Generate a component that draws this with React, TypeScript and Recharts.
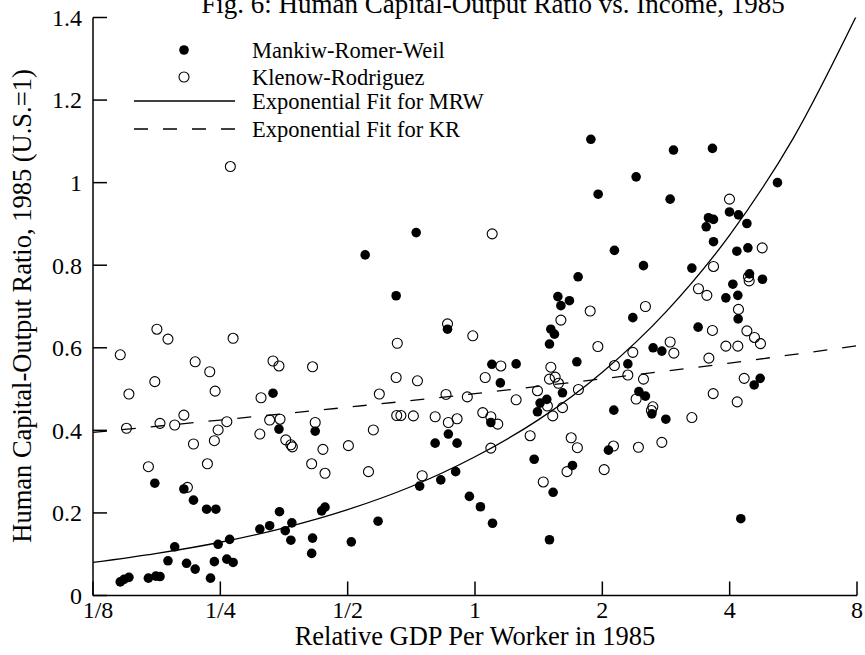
import React from "react";
import { ComposedChart, Scatter, Line, XAxis, YAxis } from "recharts";

document.body.style.margin = "0";

const serif = '"Liberation Serif", "Times New Roman", serif';

// axis ticks
const xTicks = [0.125, 0.25, 0.5, 1, 2, 4, 8];
const xTickLabels = ["1/8", "1/4", "1/2", "1", "2", "4", "8"];
const yTicks = [0, 0.2, 0.4, 0.6, 0.8, 1, 1.2, 1.4];

// Mankiw-Romer-Weil: [relative GDP per worker, human capital-output ratio]
const mrwPoints: [number, number][] = [
  [0.175, 0.272], [0.205, 0.258], [0.216, 0.231], [0.232, 0.209], [0.244, 0.209],
  [0.333, 0.49], [0.344, 0.403], [0.419, 0.398], [0.145, 0.033], [0.148, 0.039],
  [0.152, 0.044], [0.169, 0.042], [0.176, 0.047], [0.18, 0.046], [0.188, 0.084],
  [0.195, 0.118], [0.208, 0.078], [0.218, 0.064], [0.237, 0.042], [0.242, 0.082],
  [0.247, 0.124], [0.259, 0.088], [0.268, 0.08], [0.263, 0.136], [0.31, 0.161],
  [0.327, 0.169], [0.345, 0.203], [0.356, 0.157], [0.369, 0.176], [0.367, 0.134],
  [0.413, 0.139], [0.411, 0.102], [0.434, 0.205], [0.442, 0.214],
  [0.726, 0.879], [0.55, 0.825], [0.651, 0.726], [0.861, 0.645], [1.753, 0.772],
  [1.57, 0.724], [1.596, 0.702], [1.672, 0.714], [1.511, 0.645], [1.541, 0.633],
  [1.5, 0.609], [1.096, 0.56], [1.251, 0.561], [1.148, 0.515], [1.741, 0.566],
  [1.61, 0.491], [1.425, 0.466], [1.478, 0.475], [1.405, 0.445], [1.09, 0.419],
  [0.865, 0.391], [0.805, 0.369], [0.907, 0.369],
  [1.879, 1.105], [2.946, 1.079], [3.642, 1.083], [2.404, 1.014], [1.955, 0.972],
  [2.893, 0.96], [5.189, 1.0], [3.996, 0.929], [4.196, 0.922], [3.564, 0.915],
  [3.663, 0.911], [3.52, 0.893], [4.393, 0.901], [3.663, 0.857], [4.16, 0.834],
  [4.417, 0.842], [2.136, 0.836], [2.502, 0.799], [3.256, 0.793], [4.456, 0.779],
  [4.782, 0.766], [4.07, 0.754], [4.182, 0.727], [3.918, 0.721], [4.189, 0.67],
  [2.361, 0.673], [3.369, 0.65], [2.637, 0.6], [2.765, 0.592], [2.298, 0.561],
  [2.44, 0.494], [2.529, 0.483], [4.723, 0.526], [4.571, 0.51], [2.129, 0.449],
  [2.619, 0.44], [2.826, 0.427], [2.068, 0.352],
  [0.51, 0.13], [0.59, 0.18], [0.74, 0.265], [0.83, 0.28], [0.9, 0.3],
  [0.97, 0.24], [1.03, 0.215], [1.1, 0.175], [1.38, 0.33], [1.5, 0.135],
  [1.53, 0.25], [1.7, 0.315], [4.25, 0.186],
];

// Klenow-Rodriguez
const krPoints: [number, number][] = [
  [0.145, 0.583], [0.177, 0.645], [0.188, 0.621], [0.152, 0.488], [0.15, 0.405],
  [0.175, 0.518], [0.18, 0.417], [0.195, 0.413], [0.205, 0.437], [0.218, 0.566],
  [0.236, 0.542], [0.243, 0.495], [0.247, 0.401], [0.242, 0.375], [0.216, 0.367],
  [0.169, 0.312], [0.233, 0.319], [0.259, 0.421], [0.268, 0.623], [0.209, 0.262],
  [0.312, 0.479], [0.333, 0.568], [0.344, 0.556], [0.31, 0.391], [0.327, 0.425],
  [0.346, 0.427], [0.357, 0.377], [0.367, 0.365], [0.37, 0.36], [0.413, 0.554],
  [0.419, 0.419], [0.437, 0.354], [0.411, 0.319], [0.442, 0.296], [0.264, 1.039],
  [1.098, 0.876], [0.861, 0.658], [0.988, 0.629], [0.655, 0.611], [1.596, 0.667],
  [1.872, 0.689], [0.651, 0.528], [0.731, 0.52], [0.594, 0.488], [0.854, 0.487],
  [0.959, 0.481], [1.057, 0.528], [1.151, 0.556], [1.511, 0.553], [1.5, 0.524],
  [1.547, 0.529], [1.575, 0.514], [1.405, 0.496], [1.756, 0.499], [1.251, 0.474],
  [1.483, 0.459], [1.61, 0.455], [1.527, 0.435], [0.653, 0.436], [0.668, 0.436],
  [0.715, 0.435], [0.805, 0.433], [0.865, 0.419], [0.907, 0.428], [1.043, 0.443],
  [1.09, 0.433], [1.132, 0.415], [0.575, 0.401], [0.502, 0.363], [1.09, 0.357],
  [1.35, 0.387], [1.688, 0.382], [1.746, 0.358],
  [3.996, 0.96], [4.775, 0.842], [3.663, 0.797], [4.431, 0.772], [4.448, 0.762],
  [3.375, 0.743], [3.533, 0.727], [4.196, 0.693], [2.529, 0.7], [3.642, 0.642],
  [4.393, 0.641], [4.578, 0.625], [4.73, 0.61], [3.918, 0.604], [4.182, 0.604],
  [1.952, 0.603], [2.893, 0.614], [2.952, 0.587], [2.361, 0.589], [3.572, 0.575],
  [2.136, 0.557], [2.298, 0.534], [2.502, 0.524], [4.329, 0.526], [2.404, 0.476],
  [3.657, 0.489], [4.167, 0.469], [2.633, 0.457], [2.613, 0.448], [3.256, 0.431],
  [2.125, 0.362], [2.434, 0.359], [2.765, 0.371],
  [0.56, 0.3], [0.75, 0.29], [1.45, 0.275], [1.65, 0.3], [2.02, 0.305],
];

// fitted curves
const mrwFit: [number, number][] = [
  [0.125, 0.08], [0.177, 0.102], [0.25, 0.129], [0.354, 0.164], [0.5, 0.208],
  [0.707, 0.264], [1, 0.336], [1.414, 0.426], [2, 0.541], [2.828, 0.687],
  [4, 0.873], [5.657, 1.108], [8, 1.407],
];
const krFit: [number, number][] = [
  [0.125, 0.395], [0.25, 0.425], [0.5, 0.456], [1, 0.489], [2, 0.525], [4, 0.563], [8, 0.605],
];

const toRows = (pts: [number, number][]) => pts.map(([x, y]) => ({ x, y }));

const FilledDot = (props: any) => <circle cx={props.cx} cy={props.cy} r={4.8} fill="#000" />;
const OpenDot = (props: any) => (
  <circle cx={props.cx} cy={props.cy} r={5} fill="none" stroke="#000" strokeWidth={1.1} />
);

const XTick = (props: any) => {
  const { x, y, payload } = props;
  const i = xTicks.indexOf(payload.value);
  return (
    <g>
      <line x1={x} y1={y} x2={x} y2={y - 14} stroke="#000" strokeWidth={1.5} />
      <text x={x + (i === 0 ? 5 : 0)} y={y + 22} textAnchor="middle" fontSize={24} fontFamily={serif} fill="#000">
        {xTickLabels[i]}
      </text>
    </g>
  );
};

const YTick = (props: any) => {
  const { x, y, payload } = props;
  return (
    <g>
      <line x1={x} y1={y} x2={x + 14} y2={y} stroke="#000" strokeWidth={1.5} />
      <text x={x - 11} y={y} dy="0.35em" textAnchor="end" fontSize={24} fontFamily={serif} fill="#000">
        {payload.value}
      </text>
    </g>
  );
};

export default function App() {
  return (
    <div style={{ position: "relative", width: 865, height: 655, background: "#fff" }}>
      <ComposedChart width={865} height={655} margin={{ top: 17.5, right: 8, bottom: 29.5, left: 33 }}>
        <XAxis
          type="number"
          dataKey="x"
          scale="log"
          domain={[0.125, 8]}
          ticks={xTicks}
          interval={0}
          allowDataOverflow
          height={30}
          tickSize={0}
          tickMargin={0}
          tickLine={false}
          tick={<XTick />}
          axisLine={{ stroke: "#000", strokeWidth: 1.5 }}
        />
        <YAxis
          type="number"
          dataKey="y"
          domain={[0, 1.4]}
          ticks={yTicks}
          interval={0}
          allowDataOverflow
          width={60}
          tickSize={0}
          tickMargin={0}
          tickLine={false}
          tick={<YTick />}
          axisLine={{ stroke: "#000", strokeWidth: 1.5 }}
        />
        <Scatter data={toRows(krPoints)} shape={<OpenDot />} isAnimationActive={false} />
        <Scatter data={toRows(mrwPoints)} shape={<FilledDot />} isAnimationActive={false} />
        <Line
          data={toRows(mrwFit)}
          dataKey="y"
          type="monotone"
          stroke="#000"
          strokeWidth={1.3}
          dot={false}
          activeDot={false}
          isAnimationActive={false}
        />
        <Line
          data={toRows(krFit)}
          dataKey="y"
          type="monotone"
          stroke="#000"
          strokeWidth={1.3}
          strokeDasharray="14 15"
          dot={false}
          activeDot={false}
          isAnimationActive={false}
        />
      </ComposedChart>

      {/* title, axis titles and legend */}
      <svg width={865} height={655} style={{ position: "absolute", left: 0, top: 0, pointerEvents: "none" }}>
        <g fontFamily={serif} fill="#000">
          <text x={493} y={13} textAnchor="middle" fontSize={27}>
            Fig. 6: Human Capital-Output Ratio vs. Income, 1985
          </text>
          <text x={475} y={645} textAnchor="middle" fontSize={26.5}>
            Relative GDP Per Worker in 1985
          </text>
          <text transform="translate(31, 306) rotate(-90)" textAnchor="middle" fontSize={26.5}>
            Human Capital-Output Ratio, 1985 (U.S.=1)
          </text>

          <circle cx={184} cy={50} r={4.8} fill="#000" />
          <circle cx={184} cy={77} r={5} fill="none" stroke="#000" strokeWidth={1.1} />
          <line x1={134} y1={101} x2={235} y2={101} stroke="#000" strokeWidth={1.3} />
          <line x1={134} y1={129} x2={235} y2={129} stroke="#000" strokeWidth={1.3} strokeDasharray="14 15" />
          <text x={252} y={50} dy="0.35em" fontSize={22.5}>Mankiw-Romer-Weil</text>
          <text x={252} y={77} dy="0.35em" fontSize={22.5}>Klenow-Rodriguez</text>
          <text x={252} y={101} dy="0.35em" fontSize={22.5}>Exponential Fit for MRW</text>
          <text x={252} y={129} dy="0.35em" fontSize={22.5}>Exponential Fit for KR</text>
        </g>
      </svg>
    </div>
  );
}
